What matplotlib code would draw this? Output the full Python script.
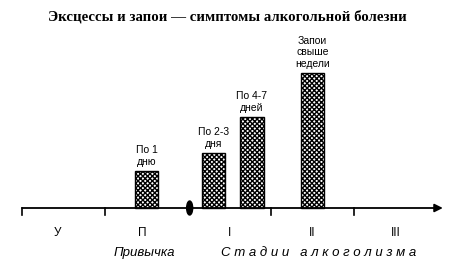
import matplotlib.pyplot as plt
from matplotlib.patches import Ellipse

# stages on the axis (one unit per stage)
stage_labels = ['У', 'П', 'I', 'II', 'III']
stage_pos = [0.43, 1.45, 2.5, 3.5, 4.5]
tick_pos = [0, 1, 3, 4]

# bars: position on axis, height
bar_pos = [1.5, 2.31, 2.77, 3.5]
bar_height = [37, 55, 91, 135]
bar_text = ['По 1\nдню', 'По 2-3\nдня', 'По 4-7\nдней', 'Запои\nсвыше\nнедели']

title = 'Эксцессы и запои — симптомы алкогольной болезни'

fig = plt.figure(figsize=(4.5, 2.67), dpi=100)
ax = fig.add_axes([0, 0, 1, 1])
ax.set_xlim(-22 / 83, 428 / 83)
ax.set_ylim(-59, 208)
ax.axis('off')

# checkered bars
plt.rcParams['hatch.linewidth'] = 1.0
ax.bar(bar_pos, bar_height, width=0.28, color='white', edgecolor='black',
       hatch='xxxxxxx', linewidth=1.0, zorder=2)
for x, h, t in zip(bar_pos, bar_height, bar_text):
    ax.text(x, h + 4, t, ha='center', va='bottom', fontsize=7.5,
            family='Liberation Sans', linespacing=1.2)

# axis with arrow
ax.annotate('', xy=(5.07, 0), xytext=(0, 0),
            arrowprops=dict(arrowstyle='-|>', color='black', lw=1.3,
                            mutation_scale=12, shrinkA=0, shrinkB=0), zorder=3)
for t in tick_pos:
    ax.plot([t, t], [0, -7], color='black', lw=1.2, zorder=3)
ax.add_patch(Ellipse((2.02, 0), 6 / 83, 14, color='black', zorder=4))

for x, s in zip(stage_pos, stage_labels):
    ax.text(x, -25, s, ha='center', va='center', fontsize=8.5,
            family='Liberation Sans')

ax.text(1.47, -45, 'Привычка', ha='center', va='center', fontsize=9.5,
        style='italic', family='Liberation Sans')
ax.text(3.57, -45, 'С т а д и и   а л к о г о л и з м а', ha='center',
        va='center', fontsize=9.5, style='italic', family='Liberation Sans')

ax.text(2.48, 191, title, ha='center', va='center', fontsize=10.7,
        fontweight='bold', family='Liberation Serif')

fig.savefig('out.png', dpi=100)
